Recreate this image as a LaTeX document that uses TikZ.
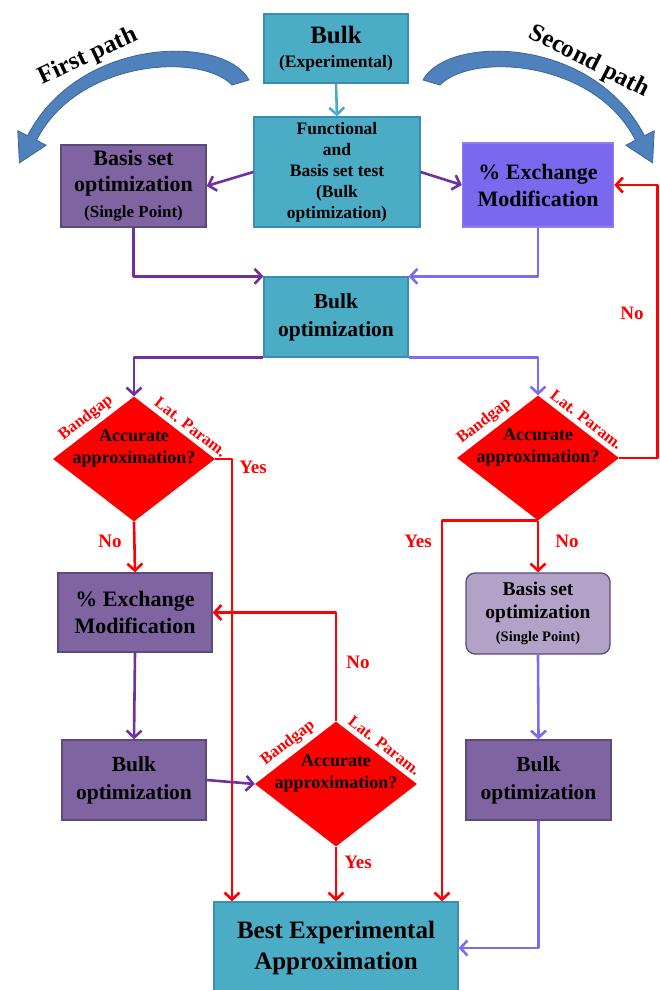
\documentclass[tikz,border=0pt]{standalone}
\usepackage{fontspec}
\setmainfont{Liberation Serif}[BoldFont={Liberation Serif Bold}]
\newfontfamily\tnr{Liberation Serif}[BoldFont={Liberation Serif Bold}]
\usetikzlibrary{arrows.meta,shapes.geometric,calc}
\definecolor{tealf}{HTML}{4BACC6}
\definecolor{teald}{HTML}{3A8DB5}
\definecolor{purf}{HTML}{8064A2}
\definecolor{purd}{HTML}{5C4A7A}
\definecolor{exf}{HTML}{7B68EE}
\definecolor{exd}{HTML}{8C7FF0}
\definecolor{lpf}{HTML}{B3A2C7}
\definecolor{darkp}{HTML}{7030A0}
\definecolor{lightp}{HTML}{7B6CF0}
\definecolor{pathblue}{HTML}{4F81BD}
\definecolor{pathblued}{HTML}{3A6796}
\begin{document}
\begin{tikzpicture}[x=1pt,y=-1pt,
  box/.style={draw, line width=1.3pt, inner sep=0pt, align=center, text=black,
    font=\tnr\bfseries\fontsize{22}{27}\selectfont},
  tealbox/.style={box, fill=tealf, draw=teald},
  purbox/.style={box, fill=purf, draw=purd},
  decision/.style={shape=diamond, aspect=1.3, fill=red, draw=none, inner sep=0pt,
    minimum width=162pt, minimum height=125pt},
  dtext/.style={align=center, inner sep=0pt, font=\tnr\bfseries\fontsize{18}{22}\selectfont},
  dlab/.style={text=red, inner xsep=1pt, inner ysep=4.5pt, anchor=south,
    font=\tnr\bfseries\fontsize{16.5}{18}\selectfont},
  yn/.style={text=red, inner sep=0pt, font=\tnr\bfseries\fontsize{19}{21}\selectfont},
  conn/.style={line width=2.6pt, line join=round, -{Straight Barb[length=7pt,width=15pt]}},
  connr/.style={conn, red},
  pathtext/.style={inner sep=0pt, font=\tnr\bfseries\fontsize{25}{27}\selectfont}
]
\fill[white] (0,0) rectangle (660,990);
\useasboundingbox (0,0) rectangle (660,990);

% curved path arrows
\filldraw[fill=pathblue, draw=pathblued, line width=0.8pt]
  (249,80) .. controls (225,35) and (80,35) .. (27.5,135.7) -- (17.8,130.8) -- (19.4,162.9)
  -- (46.2,145.2) -- (36.5,140.3) .. controls (77,60) and (200,52) .. (232,85) -- cycle;
\begin{scope}[shift={(672,0)}, xscale=-1]
\filldraw[fill=pathblue, draw=pathblued, line width=0.8pt]
  (249,80) .. controls (225,35) and (80,35) .. (27.5,135.7) -- (17.8,130.8) -- (19.4,162.9)
  -- (46.2,145.2) -- (36.5,140.3) .. controls (77,60) and (200,52) .. (232,85) -- cycle;
\end{scope}
\node[pathtext, rotate=25] (fp) at (88,57) {First path};
\node[pathtext, rotate=-27] (sp) at (589,62) {Second path};

% boxes
\node[tealbox, minimum width=144pt, minimum height=69pt, font=\tnr\bfseries\fontsize{25}{24}\selectfont]
  (bulk) at (336,48.5) {Bulk\\{\fontsize{17.5}{20}\selectfont (Experimental)}};
\node[tealbox, minimum width=166pt, minimum height=110pt, font=\tnr\bfseries\fontsize{17.5}{21}\selectfont]
  (func) at (337,172) {Functional\\and\\Basis set test\\(Bulk\\optimization)};
\node[purbox, minimum width=145pt, minimum height=82pt, font=\tnr\bfseries\fontsize{22}{26}\selectfont]
  (basisL) at (133.5,186) {Basis set\\optimization\\{\fontsize{17}{20}\selectfont (Single Point)}};
\node[box, fill=exf, draw=exd, minimum width=151pt, minimum height=84pt]
  (exchR) at (538,185) {\%~Exchange\\Modification};
\node[tealbox, minimum width=144pt, minimum height=80pt, font=\tnr\bfseries\fontsize{21.5}{28}\selectfont]
  (bulkM) at (336,317) {Bulk\\optimization};

\node[decision] (dL) at (134,459) {};
\node[dtext] (dLt) at (134,448) {Accurate\\approximation?};
\node[decision] (dR) at (538,458) {};
\node[dtext] (dRt) at (538,447) {Accurate\\approximation?};
\node[decision] (dB) at (336,784) {};
\node[dtext] (dBt) at (336,773) {Accurate\\approximation?};

\node[purbox, minimum width=154pt, minimum height=79pt]
  (exchL) at (135,612.5) {\%~Exchange\\Modification};
\node[purbox, minimum width=144pt, minimum height=80pt, font=\tnr\bfseries\fontsize{21.5}{28}\selectfont]
  (bulkL) at (134,780) {Bulk\\optimization};
\node[box, fill=lpf, draw=purd, rounded corners=9pt, minimum width=144pt, minimum height=81pt,
  font=\tnr\bfseries\fontsize{19.5}{23}\selectfont]
  (basisR) at (538,613.5) {Basis set\\optimization\\{\fontsize{14.5}{17}\selectfont (Single Point)}};
\node[purbox, minimum width=145pt, minimum height=80pt, font=\tnr\bfseries\fontsize{21.5}{28}\selectfont]
  (bulkR) at (538.5,780) {Bulk\\optimization};
\node[tealbox, minimum width=244pt, minimum height=92pt, font=\tnr\bfseries\fontsize{25}{31}\selectfont]
  (best) at (336,948) {Best Experimental\\Approximation};

% diamond labels
\node[dlab, rotate=37.7] (bgL) at ($(dL.west)!0.5!(dL.north)$) {Bandgap};
\node[dlab, rotate=-37.7] (lpL) at ($(dL.north)!0.62!(dL.east)$) {Lat. Param.};
\node[dlab, rotate=37.7] (bgR) at ($(dR.west)!0.43!(dR.north)$) {Bandgap};
\node[dlab, rotate=-37.7] (lpR) at ($(dR.north)!0.52!(dR.east)$) {Lat. Param.};
\node[dlab, rotate=37.7] (bgB) at ($(dB.west)!0.5!(dB.north)$) {Bandgap};
\node[dlab, rotate=-37.7] (lpB) at ($(dB.north)!0.52!(dB.east)$) {Lat. Param.};

% connectors
\draw[conn, tealf] (bulk.south) -- (func.north);
\draw[conn, darkp] (func.west) -- (basisL.east);
\draw[conn, darkp] (func.east) -- (exchR.west);
\draw[conn, darkp] (basisL.south) |- (bulkM.north west);
\draw[conn, lightp] (exchR.south) |- (bulkM.north east);
\draw[conn, darkp] (bulkM.south west) -| (dL.north);
\draw[conn, lightp] (bulkM.south east) -| (dR.north);
\draw[connr] (dL.east) -| ([xshift=-104pt]best.north);
\draw[connr] (dL.south) -- (exchL.north);
\draw[conn, darkp] (exchL.south) -- (bulkL.north);
\draw[conn, darkp] (bulkL.east) -- (dB.west);
\draw[connr] (dB.north) |- (exchL.east);
\draw[connr] (dB.south) -- (best.north);
\draw[connr] (dR.south) -- (basisR.north);
\draw[connr] (dR.south) -| ([xshift=106pt]best.north);
\draw[connr] (dR.east) -- ++(38,0) |- (exchR.east);
\draw[conn, lightp] (basisR.south) -- (bulkR.north);
\draw[conn, lightp] (bulkR.south) |- (best.east);

% yes / no labels
\node[yn] (y1) at (253,467) {Yes};
\node[yn] (n1) at (110,541) {No};
\node[yn] (n2) at (358,662) {No};
\node[yn] (y2) at (358,862) {Yes};
\node[yn] (n3) at (632,313) {No};
\node[yn] (n4) at (567,541) {No};
\node[yn] (y3) at (418,541) {Yes};
\end{tikzpicture}
\end{document}
